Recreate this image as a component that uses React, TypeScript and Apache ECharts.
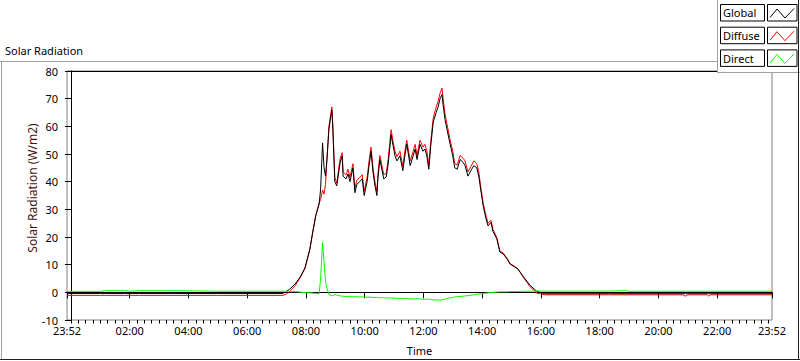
import React, { useEffect, useRef } from "react";
import * as echarts from "echarts";

// time in minutes since midnight (-8 = 23:52 of the previous day)
const timeMin = [
  -8, 60, 70, 110, 120, 140, 240, 300, 433, 440, 447, 458, 468, 478, 488, 494, 500, 507, 510, 514,
  517, 520, 523, 527, 533, 535, 539, 543, 550, 554, 556, 562, 566, 570, 576, 580, 584, 590, 595,
  599, 605, 609, 613, 617, 621, 625, 627, 631, 635, 639, 644, 648, 654, 658, 662, 666, 672, 678,
  682, 686, 693, 699, 703, 707, 713, 719, 723, 727, 731, 735, 740, 746, 750, 754, 758, 760, 764,
  768, 774, 780, 784, 789, 795, 801, 805, 811, 817, 823, 829, 833, 838, 842, 848, 852, 858, 862,
  870, 876, 883, 891, 897, 907, 913, 925, 938, 952, 968, 1100, 1132, 1140, 1250, 1255, 1260, 1300,
  1303, 1306, 1432,
];

const globalVals = [
  -0.4, -0.4, -0.4, -0.4, -0.4, -0.4, -0.4, -0.4, -0.4, 0.3, 1.2, 3.0, 5.5, 8.8, 15.6, 21.8, 27.6, 31.9, 37.3, 54,
  45, 42, 48, 59, 66, 59, 40, 38.5, 47, 49.3, 42, 41, 42.8, 40, 45, 36, 39, 40, 41,
  35, 40, 45.8, 51, 43.4, 38.5, 35, 41, 48, 44.5, 41, 41.7, 46.4, 57, 53, 49.3, 47.5, 49.3, 44,
  49.3, 53.5, 45.8, 49.3, 51.8, 48, 53.5, 51, 51.8, 49.3, 44.5, 53, 61.5, 65, 67, 70, 71.5, 68, 62.6,
  59, 54, 49.3, 45, 44.5, 48, 47, 45.8, 42, 44, 45.8, 45, 42, 36, 31.3, 26.5, 24, 25.3, 22,
  19.3, 14.6, 13.9, 12, 10.2, 9.1, 8.4, 5.5, 2.5, 0.3, -0.5, -0.5, -0.5, -0.5, -0.5, -0.5, -0.5, -0.5,
  -0.5, -0.5, -0.5,
];

const diffuseVals = [
  -1.1, -1.1, -1.1, -1.1, -1.1, -1.1, -1.1, -1.1, -1.1, -0.6, 0.4, 2.4, 5.2, 8.6, 15.5, 21.8, 27.8, 32.3, 33.5, 37,
  35.5, 39, 48.5, 60, 67, 60.5, 41.5, 39.5, 48.5, 50.5, 43.5, 42.5, 44.5, 41.5, 46.5, 37.5, 40.5, 41.5, 42.5,
  36.5, 41.5, 47.5, 52.5, 45, 40, 36.5, 42.5, 49.5, 46, 42.5, 43, 48, 58.8, 54.5, 51, 49, 51, 45.5,
  51, 55, 47.5, 51, 53.5, 49.5, 55, 52.5, 53.5, 51, 46, 54.5, 63, 67, 69, 72, 73.8, 70.5, 64.5,
  61, 55.5, 51, 46.5, 46, 49.5, 48.5, 47.5, 43.5, 45.5, 47.5, 46.5, 43.5, 37, 32.3, 27.5, 25, 26, 22.8,
  19.8, 15, 14.2, 12.3, 10.4, 9.3, 8.5, 5.2, 2.0, -0.3, -0.9, -0.9, -0.9, -0.9, -0.9, -1.4, -0.9, -0.9,
  -1.4, -0.9, -0.9,
];

const directVals = [
  0.35, 0.35, 0.6, 0.6, 0.4, 0.6, 0.55, 0.4, 0.4, 0.4, 0.4, 0.3, 0.1, -0.1, -0.2, -0.3, -0.4, -0.5, 5, 18,
  11, 4, 1.5, -0.8, -1.2, -1.3, -0.8, -1.0, -1.3, -1.4, -1.4, -1.5, -1.5, -1.6, -1.6, -1.5, -1.6, -1.7, -1.6,
  -1.7, -1.8, -1.7, -1.8, -1.8, -1.9, -1.8, -1.9, -2.0, -1.9, -2.0, -2.0, -2.1, -2.0, -2.1, -2.1, -2.2, -2.2, -2.3,
  -2.2, -2.3, -2.3, -2.4, -2.4, -2.3, -2.4, -2.5, -2.5, -2.4, -2.5, -2.6, -2.7, -2.7, -2.8, -2.8, -2.7, -2.6, -2.5,
  -2.3, -2.0, -1.8, -1.7, -1.6, -1.5, -1.4, -1.3, -1.2, -1.0, -0.9, -0.7, -0.6, -0.5, -0.4, -0.3, -0.2, -0.1, 0,
  0.1, 0.2, 0.2, 0.2, 0.3, 0.3, 0.3, 0.4, 0.4, 0.5, 0.4, 0.45, 0.6, 0.4, 0.4, 0.4, 0.4, 0.4,
  0.4, 0.4, 0.4,
];

const majorTicks = [-8, 120, 240, 360, 480, 600, 720, 840, 960, 1080, 1200, 1320, 1432];
const minorTicks: number[] = [];
for (let m = 0; m < 1440; m += 15) minorTicks.push(m);

const legendNames = ["Global", "Diffuse", "Direct"];
const seriesColors = ["#000000", "#ff0000", "#00ff00"];

const FONT = "'Noto Sans', sans-serif";

function fmt(m: number): string {
  let v = m < 0 ? m + 1440 : m;
  const h = Math.floor(v / 60);
  const mm = Math.round(v % 60);
  return String(h).padStart(2, "0") + ":" + String(mm).padStart(2, "0");
}

export default function App() {
  const ref = useRef<HTMLDivElement>(null);
  useEffect(() => {
    if (!ref.current) return;
    const chart = echarts.init(ref.current, undefined, { renderer: "svg" });
    const zip = (vals: number[]) => timeMin.map((t, i) => [t, vals[i]]);

    const legendGraphics: any[] = [
      { type: "rect", shape: { x: 717, y: 0, width: 83, height: 72 }, style: { fill: "#ffffff", stroke: "none" }, z: 100 },
      { type: "line", shape: { x1: 717.5, y1: 0, x2: 717.5, y2: 72 }, style: { stroke: "#a0a0a0", lineWidth: 1 }, z: 101 },
      { type: "line", shape: { x1: 717, y1: 72.5, x2: 800, y2: 72.5 }, style: { stroke: "#a0a0a0", lineWidth: 1 }, z: 101 },
    ];
    legendNames.forEach((name, i) => {
      const y0 = 4 + i * 22.7;
      legendGraphics.push(
        { type: "rect", shape: { x: 720.5, y: y0 + 0.5, width: 44, height: 16.5 }, style: { fill: "#ffffff", stroke: "#000", lineWidth: 1 }, z: 102 },
        { type: "text", x: 723, y: y0 + 8.8, style: { text: name, font: `11px ${FONT}`, fill: "#000", textVerticalAlign: "middle" }, z: 103 },
        { type: "rect", shape: { x: 767.5, y: y0 + 0.5, width: 29.5, height: 16.5 }, style: { fill: "#ffffff", stroke: "#000", lineWidth: 1 }, z: 102 },
        {
          type: "polyline",
          shape: { points: [[770, y0 + 13.5], [777, y0 + 5], [785, y0 + 14], [794, y0 + 4.5]] },
          style: { stroke: seriesColors[i], lineWidth: 1, fill: "none" },
          z: 103,
        }
      );
    });

    chart.setOption({
      animation: false,
      textStyle: { fontFamily: FONT },
      grid: { left: 67, right: 28, top: 71, bottom: 40, show: true, borderColor: "#808080", borderWidth: 1, backgroundColor: "#ffffff" },
      xAxis: [
        {
          type: "value",
          min: -8,
          max: 1432,
          position: "bottom",
          name: "Time",
          nameLocation: "middle",
          nameGap: 25,
          nameTextStyle: { color: "#000", fontSize: 11, fontFamily: FONT },
          axisLine: { show: true, lineStyle: { color: "#000", width: 1 } },
          axisTick: { show: true, customValues: majorTicks, length: 6, lineStyle: { color: "#000" } },
          axisLabel: { show: true, customValues: majorTicks, formatter: (v: number) => fmt(v), color: "#000", fontSize: 11, fontFamily: FONT, margin: 5 },
          splitLine: { show: false },
        },
        {
          type: "value",
          min: -8,
          max: 1432,
          position: "bottom",
          axisLine: { show: false },
          axisTick: { show: true, customValues: minorTicks, length: 3.5, lineStyle: { color: "#000" } },
          axisLabel: { show: false },
          splitLine: { show: false },
        },
        {
          type: "value",
          min: -8,
          max: 1432,
          position: "top",
          axisLine: { show: true, lineStyle: { color: "#000", width: 1 } },
          axisTick: { show: false },
          axisLabel: { show: false },
          splitLine: { show: false },
        },
      ],
      yAxis: {
        type: "value",
        min: -10,
        max: 80,
        interval: 10,
        axisLine: { show: true, lineStyle: { color: "#000", width: 1 } },
        axisTick: { show: true, length: 6, lineStyle: { color: "#000" } },
        axisLabel: { color: "#000", fontSize: 11, fontFamily: FONT, margin: 9 },
        splitLine: { show: false },
      },
      series: [
        { name: "Diffuse", type: "line", xAxisIndex: 0, data: zip(diffuseVals), showSymbol: false, symbol: "none", lineStyle: { color: "#ff0000", width: 1 }, z: 2 },
        { name: "Global", type: "line", xAxisIndex: 0, data: zip(globalVals), showSymbol: false, symbol: "none", lineStyle: { color: "#000000", width: 1 }, z: 3 },
        { name: "Direct", type: "line", xAxisIndex: 0, data: zip(directVals), showSymbol: false, symbol: "none", lineStyle: { color: "#00ff00", width: 1 }, z: 4 },
      ],
      graphic: [
        { type: "line", shape: { x1: 0, y1: 61.5, x2: 717, y2: 61.5 }, style: { stroke: "#a0a0a0", lineWidth: 1 } },
        { type: "line", shape: { x1: 1.5, y1: 61, x2: 1.5, y2: 359 }, style: { stroke: "#a0a0a0", lineWidth: 1 } },
        { type: "line", shape: { x1: 0, y1: 359.5, x2: 800, y2: 359.5 }, style: { stroke: "#202020", lineWidth: 1 } },
        { type: "line", shape: { x1: 798.5, y1: 0, x2: 798.5, y2: 360 }, style: { stroke: "#202020", lineWidth: 1 }, z: 104 },
        { type: "text", x: 5, y: 50, style: { text: "Solar Radiation", font: `11px ${FONT}`, fill: "#000", textVerticalAlign: "middle" } },
        {
          type: "text",
          x: 32,
          y: 188,
          rotation: Math.PI / 2,
          style: { text: "Solar Radiation (W/m2)", font: `12px ${FONT}`, fill: "#4a1414", textAlign: "center", textVerticalAlign: "middle" },
        },
        ...legendGraphics,
      ],
    });
    return () => chart.dispose();
  }, []);
  return <div ref={ref} style={{ width: 800, height: 361, position: "absolute", left: 0, top: 0 }} />;
}
